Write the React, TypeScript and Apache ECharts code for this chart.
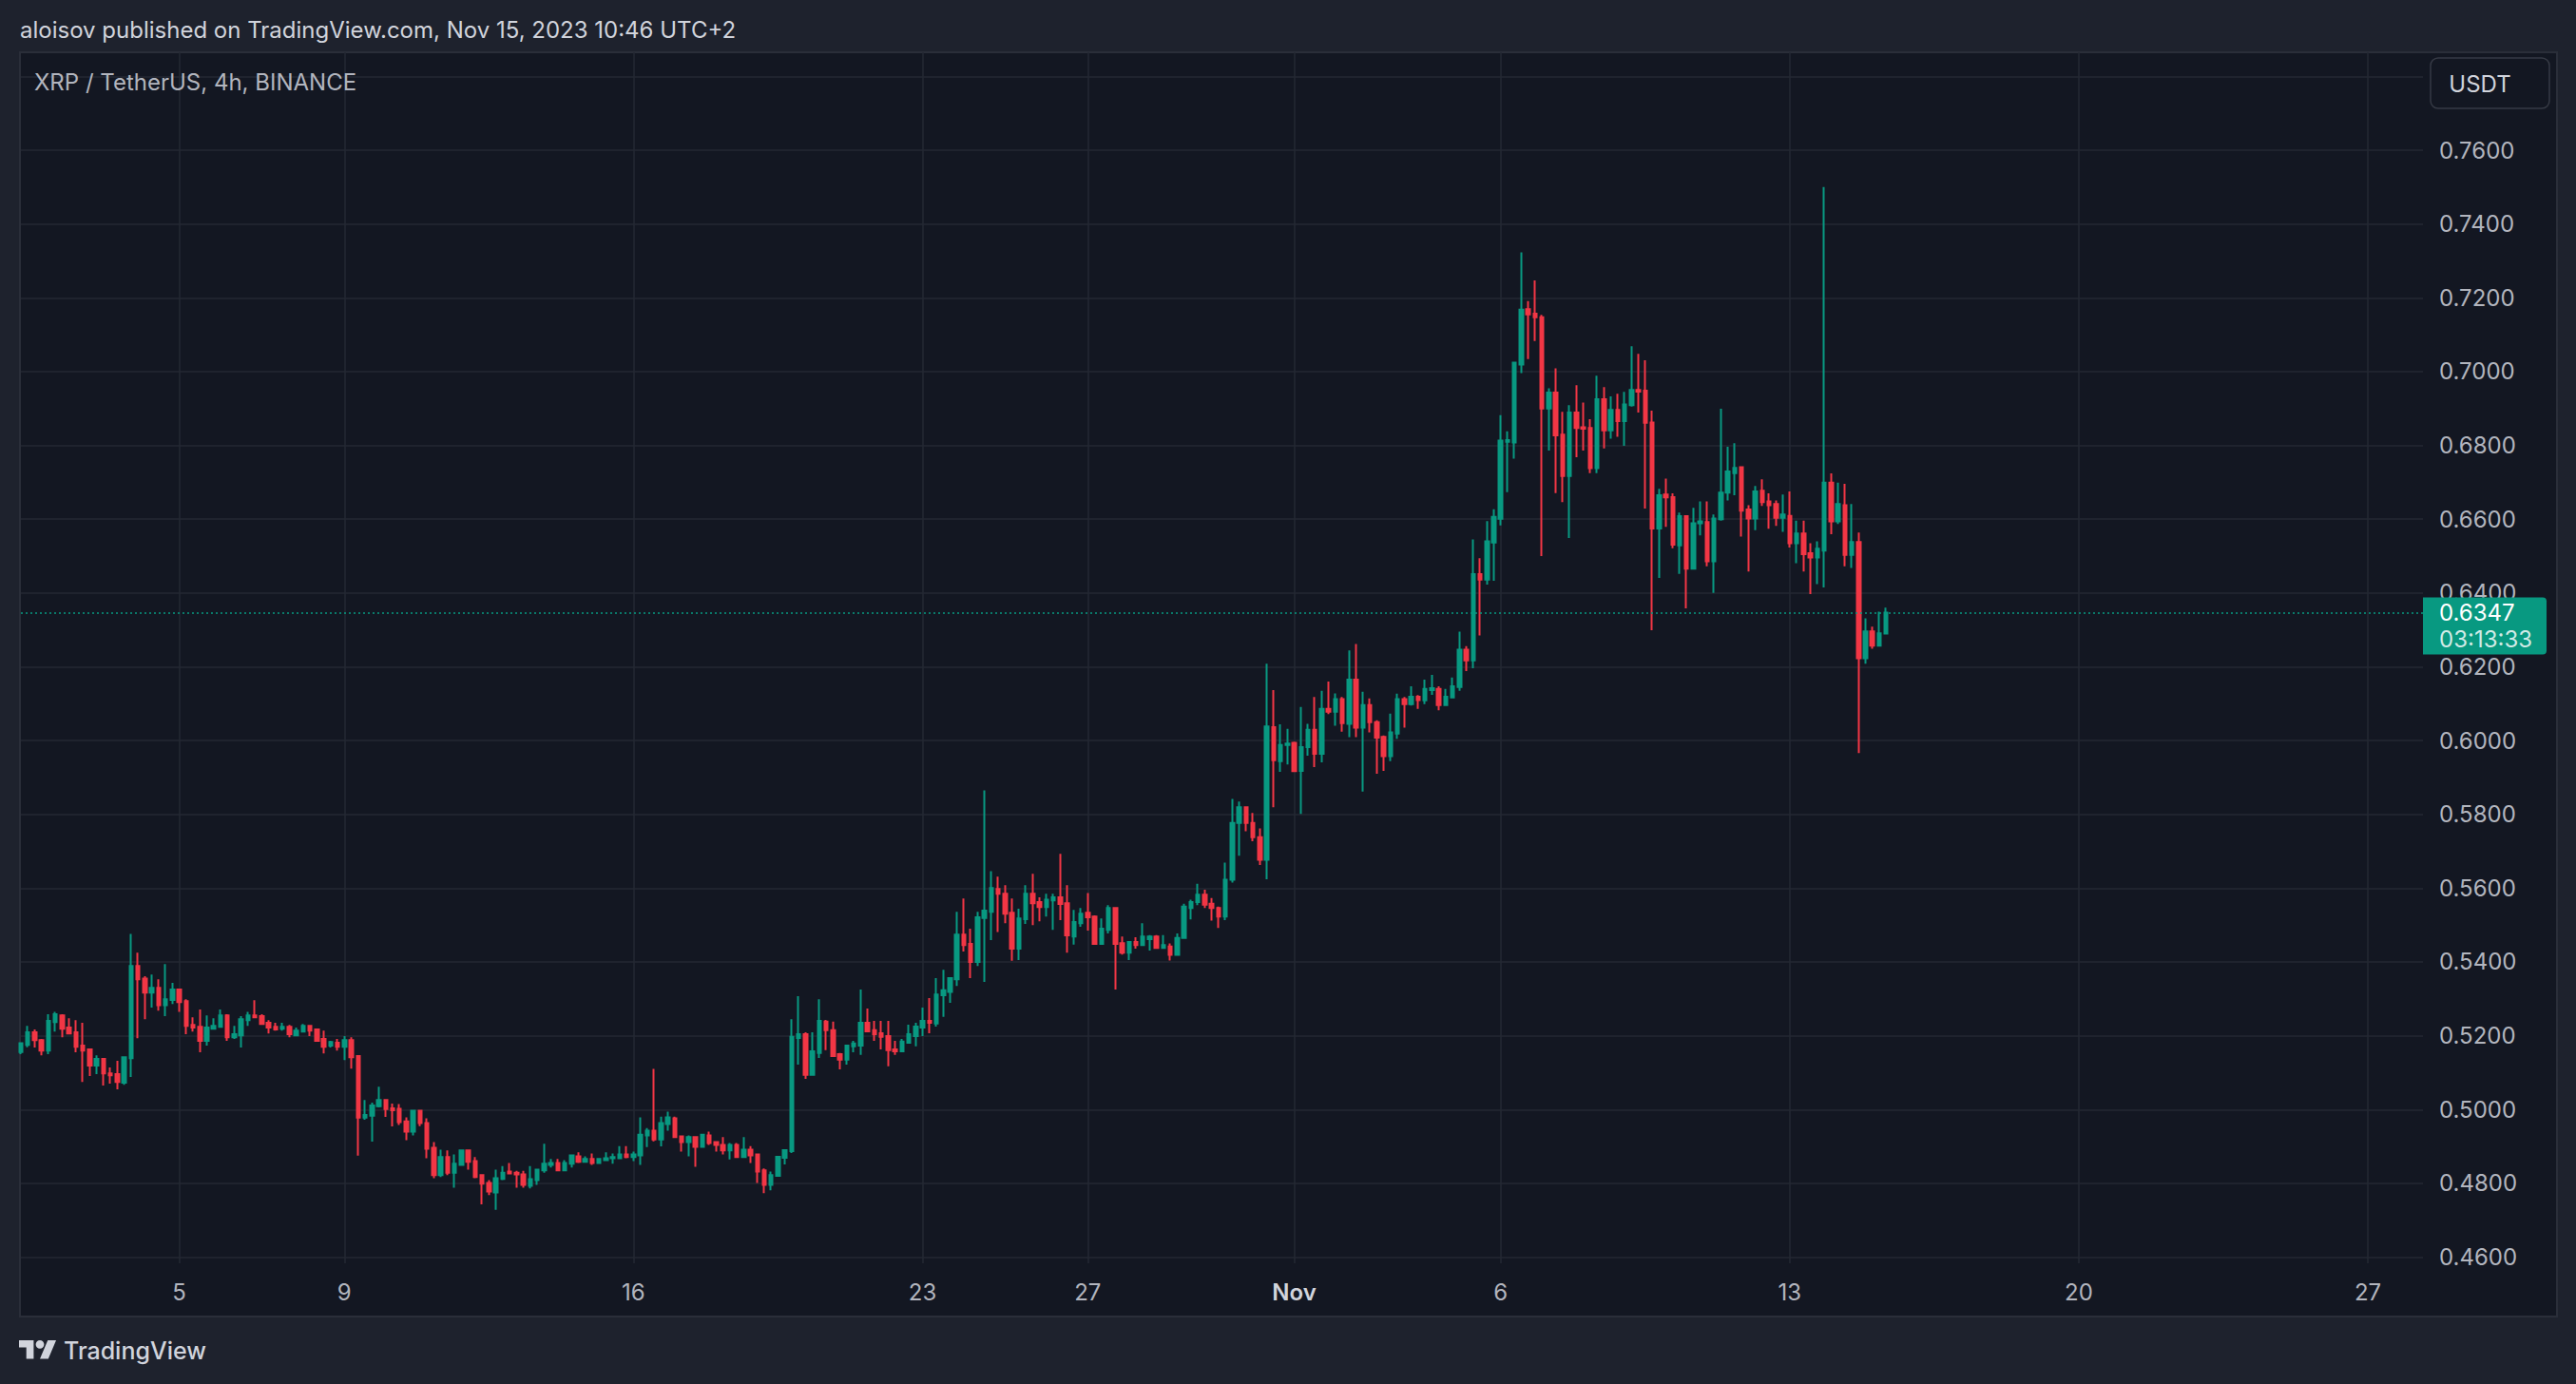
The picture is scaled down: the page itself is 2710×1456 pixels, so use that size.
import React, { useEffect, useRef } from "react";
import * as echarts from "echarts";

// ---- data: 4h candles [open, high, low, close], first slot Oct 1 06:00 (UTC+2) ----
const candlesWeek1 = [
  [0.5156,0.5182,0.5150,0.5180],[0.5175,0.5227,0.5169,0.5209],[0.5209,0.5217,0.5168,0.5188],[0.5188,0.5191,0.5147,0.5160],[0.5160,0.5258,0.5150,0.5240],[0.5237,0.5265,0.5211,0.5258],[0.5255,0.5258,0.5196,0.5219],[0.5222,0.5247,0.5206,0.5206],[0.5209,0.5242,0.5155,0.5170],[0.5173,0.5235,0.5075,0.5160],
  [0.5163,0.5165,0.5091,0.5119],[0.5119,0.5147,0.5096,0.5137],[0.5137,0.5140,0.5065,0.5098],[0.5098,0.5114,0.5070,0.5093],[0.5096,0.5132,0.5055,0.5075],[0.5073,0.5142,0.5067,0.5142],[0.5139,0.5476,0.5088,0.5389],[0.5389,0.5425,0.5193,0.5353],[0.5355,0.5361,0.5245,0.5317],[0.5317,0.5366,0.5276,0.5330],
  [0.5330,0.5353,0.5268,0.5283],[0.5283,0.5394,0.5253,0.5299],[0.5297,0.5343,0.5286,0.5325],[0.5325,0.5325,0.5265,0.5291],[0.5294,0.5299,0.5204,0.5227],[0.5229,0.5250,0.5211,0.5222],[0.5224,0.5271,0.5155,0.5186],[0.5186,0.5255,0.5173,0.5222],[0.5219,0.5247,0.5217,0.5227],[0.5224,0.5271,0.5222,0.5255],
  [0.5255,0.5258,0.5186,0.5196],[0.5196,0.5227,0.5191,0.5204],[0.5201,0.5253,0.5168,0.5245],[0.5242,0.5265,0.5227,0.5255],[0.5255,0.5296,0.5250,0.5250],[0.5253,0.5258,0.5232,0.5232],[0.5235,0.5242,0.5206,0.5222],[0.5224,0.5235,0.5214,0.5217],[0.5219,0.5235,0.5214,0.5224],[0.5224,0.5229,0.5196,0.5204],
  [0.5201,0.5222,0.5201,0.5214],[0.5211,0.5232,0.5209,0.5227],
];
const candlesWeek2 = [
  [0.5227,0.5227,0.5199,0.5214],[0.5217,0.5219,0.5186,0.5186],[0.5191,0.5214,0.5152,0.5170],[0.5173,0.5186,0.5168,0.5183],[0.5181,0.5191,0.5160,0.5170],[0.5170,0.5199,0.5134,0.5188],[0.5188,0.5196,0.5111,0.5142],[0.5145,0.5147,0.4875,0.4978],[0.4978,0.5026,0.4972,0.4985],[0.4983,0.5019,0.4913,0.5011],
  [0.5009,0.5062,0.5006,0.5026],[0.5026,0.5026,0.4980,0.5001],[0.5003,0.5016,0.4954,0.4998],[0.5002,0.5015,0.4958,0.4966],[0.4968,0.4979,0.4917,0.4940],[0.4940,0.4999,0.4930,0.4997],[0.4997,0.4999,0.4955,0.4963],[0.4963,0.4976,0.4868,0.4894],[0.4896,0.4912,0.4814,0.4822],[0.4822,0.4891,0.4817,0.4871],
  [0.4871,0.4889,0.4822,0.4829],[0.4829,0.4878,0.4788,0.4853],[0.4850,0.4891,0.4850,0.4889],[0.4889,0.4889,0.4837,0.4858],[0.4860,0.4871,0.4814,0.4817],[0.4822,0.4824,0.4743,0.4799],[0.4801,0.4809,0.4768,0.4778],[0.4775,0.4837,0.4728,0.4814],[0.4812,0.4847,0.4809,0.4829],[0.4832,0.4855,0.4824,0.4827],
  [0.4829,0.4834,0.4788,0.4824],[0.4824,0.4834,0.4788,0.4796],[0.4793,0.4847,0.4786,0.4811],[0.4809,0.4837,0.4796,0.4837],[0.4835,0.4907,0.4829,0.4853],[0.4850,0.4866,0.4843,0.4855],[0.4855,0.4866,0.4835,0.4835],[0.4835,0.4863,0.4835,0.4855],[0.4853,0.4876,0.4843,0.4876],[0.4873,0.4884,0.4855,0.4858],
  [0.4858,0.4873,0.4858,0.4866],[0.4866,0.4881,0.4850,0.4855],
];
const candlesWeek3 = [
  [0.4855,0.4866,0.4853,0.4866],[0.4863,0.4884,0.4860,0.4868],[0.4868,0.4881,0.4853,0.4871],[0.4868,0.4901,0.4868,0.4878],[0.4878,0.4901,0.4868,0.4871],[0.4871,0.4886,0.4860,0.4878],[0.4876,0.4979,0.4850,0.4932],[0.4930,0.4950,0.4898,0.4943],[0.4943,0.5110,0.4914,0.4919],[0.4919,0.4981,0.4900,0.4963],
  [0.4961,0.4994,0.4943,0.4979],[0.4976,0.4981,0.4925,0.4925],[0.4927,0.4927,0.4886,0.4912],[0.4912,0.4930,0.4873,0.4925],[0.4925,0.4925,0.4845,0.4899],[0.4899,0.4932,0.4896,0.4932],[0.4930,0.4940,0.4904,0.4909],[0.4912,0.4914,0.4886,0.4904],[0.4904,0.4925,0.4878,0.4889],[0.4889,0.4909,0.4865,0.4904],
  [0.4904,0.4909,0.4871,0.4871],[0.4871,0.4925,0.4871,0.4891],[0.4891,0.4901,0.4855,0.4876],[0.4878,0.4881,0.4801,0.4832],[0.4835,0.4840,0.4773,0.4796],[0.4796,0.4832,0.4781,0.4822],[0.4820,0.4872,0.4820,0.4872],[0.4869,0.4892,0.4851,0.4890],[0.4887,0.5245,0.4882,0.5197],[0.5194,0.5307,0.5122,0.5204],
  [0.5204,0.5209,0.5083,0.5094],[0.5094,0.5209,0.5094,0.5158],[0.5153,0.5299,0.5140,0.5240],[0.5238,0.5243,0.5161,0.5215],[0.5215,0.5238,0.5143,0.5145],[0.5150,0.5153,0.5109,0.5135],[0.5135,0.5173,0.5122,0.5173],[0.5171,0.5186,0.5155,0.5179],[0.5173,0.5325,0.5148,0.5235],[0.5235,0.5274,0.5212,0.5212],
  [0.5215,0.5240,0.5186,0.5204],[0.5207,0.5240,0.5163,0.5197],
];
const candlesWeek4 = [
  [0.5199,0.5240,0.5117,0.5161],[0.5163,0.5186,0.5148,0.5158],[0.5158,0.5191,0.5158,0.5184],[0.5181,0.5230,0.5181,0.5204],[0.5199,0.5235,0.5171,0.5225],[0.5222,0.5276,0.5199,0.5240],[0.5240,0.5302,0.5207,0.5235],[0.5233,0.5356,0.5225,0.5312],[0.5310,0.5379,0.5251,0.5323],[0.5319,0.5359,0.5289,0.5356],
  [0.5353,0.5536,0.5335,0.5474],[0.5474,0.5572,0.5428,0.5446],[0.5449,0.5490,0.5356,0.5400],[0.5400,0.5536,0.5389,0.5521],[0.5519,0.5865,0.5346,0.5539],[0.5536,0.5646,0.5459,0.5600],[0.5598,0.5631,0.5481,0.5585],[0.5585,0.5608,0.5505,0.5531],[0.5533,0.5572,0.5403,0.5436],[0.5436,0.5544,0.5405,0.5518],
  [0.5516,0.5608,0.5503,0.5585],[0.5585,0.5639,0.5500,0.5559],[0.5562,0.5575,0.5510,0.5549],[0.5549,0.5585,0.5523,0.5569],[0.5567,0.5585,0.5487,0.5575],[0.5575,0.5693,0.5513,0.5557],[0.5559,0.5608,0.5425,0.5472],[0.5469,0.5541,0.5447,0.5508],[0.5505,0.5546,0.5495,0.5531],[0.5533,0.5587,0.5485,0.5521],
  [0.5523,0.5526,0.5449,0.5449],[0.5449,0.5518,0.5449,0.5490],[0.5487,0.5554,0.5477,0.5546],[0.5546,0.5546,0.5325,0.5449],[0.5451,0.5469,0.5420,0.5425],[0.5425,0.5454,0.5405,0.5454],[0.5454,0.5467,0.5436,0.5446],[0.5446,0.5505,0.5446,0.5469],[0.5462,0.5473,0.5431,0.5469],[0.5469,0.5473,0.5438,0.5438],
  [0.5438,0.5473,0.5438,0.5446],[0.5442,0.5450,0.5404,0.5419],
];
const candlesWeek5 = [
  [0.5419,0.5477,0.5419,0.5465],[0.5465,0.5558,0.5465,0.5550],[0.5546,0.5569,0.5515,0.5562],[0.5562,0.5612,0.5554,0.5582],[0.5582,0.5596,0.5546,0.5555],[0.5558,0.5573,0.5512,0.5546],[0.5546,0.5550,0.5492,0.5523],[0.5523,0.5669,0.5513,0.5623],[0.5623,0.5842,0.5615,0.5777],[0.5777,0.5835,0.5688,0.5819],
  [0.5819,0.5819,0.5754,0.5777],[0.5777,0.5804,0.5727,0.5738],[0.5738,0.5762,0.5663,0.5677],[0.5677,0.6208,0.5624,0.6038],[0.6036,0.6137,0.5819,0.5947],[0.5944,0.6044,0.5915,0.5988],[0.5988,0.6032,0.5935,0.5992],[0.5994,0.5997,0.5915,0.5917],[0.5918,0.6091,0.5801,0.5982],[0.5982,0.6045,0.5959,0.6029],
  [0.6029,0.6118,0.5928,0.5964],[0.5964,0.6135,0.5941,0.6086],[0.6086,0.6160,0.6072,0.6078],[0.6078,0.6128,0.6040,0.6112],[0.6112,0.6118,0.6024,0.6047],[0.6045,0.6244,0.6009,0.6165],[0.6165,0.6262,0.6009,0.6035],[0.6035,0.6132,0.5862,0.6096],[0.6096,0.6114,0.6022,0.6050],[0.6050,0.6055,0.5910,0.6008],
  [0.6010,0.6014,0.5918,0.5958],[0.5958,0.6073,0.5944,0.6022],[0.6019,0.6127,0.6005,0.6112],[0.6112,0.6118,0.6035,0.6099],[0.6099,0.6147,0.6095,0.6119],[0.6119,0.6123,0.6086,0.6110],[0.6109,0.6165,0.6099,0.6140],[0.6137,0.6178,0.6124,0.6142],[0.6140,0.6147,0.6082,0.6096],[0.6096,0.6140,0.6094,0.6119],
  [0.6117,0.6171,0.6114,0.6147],[0.6145,0.6295,0.6135,0.6246],
];
const candlesWeek6 = [
  [0.6246,0.6256,0.6188,0.6217],[0.6217,0.6545,0.6196,0.6451],[0.6451,0.6494,0.6285,0.6436],[0.6436,0.6595,0.6423,0.6540],[0.6537,0.6627,0.6433,0.6606],[0.6601,0.6882,0.6583,0.6813],[0.6810,0.6838,0.6673,0.6814],[0.6808,0.7027,0.6764,0.7024],[0.7019,0.7323,0.6996,0.7168],[0.7169,0.7191,0.7034,0.7155],
  [0.7157,0.7247,0.7083,0.7147],[0.7147,0.7154,0.6500,0.6900],[0.6900,0.6955,0.6786,0.6943],[0.6943,0.7009,0.6671,0.6827],[0.6829,0.6891,0.6646,0.6717],[0.6717,0.6909,0.6549,0.6889],[0.6889,0.6963,0.6768,0.6847],[0.6849,0.6916,0.6786,0.6845],[0.6847,0.6871,0.6725,0.6738],[0.6738,0.6989,0.6725,0.6925],
  [0.6925,0.6958,0.6792,0.6841],[0.6841,0.6933,0.6818,0.6896],[0.6896,0.6940,0.6823,0.6866],[0.6866,0.6945,0.6799,0.6911],[0.6909,0.7069,0.6905,0.6950],[0.6950,0.7048,0.6889,0.6946],[0.6948,0.7031,0.6629,0.6861],[0.6862,0.6894,0.6299,0.6575],[0.6575,0.6682,0.6441,0.6665],[0.6667,0.6710,0.6579,0.6659],
  [0.6660,0.6670,0.6521,0.6531],[0.6529,0.6618,0.6452,0.6608],[0.6608,0.6608,0.6358,0.6466],[0.6466,0.6631,0.6464,0.6589],[0.6589,0.6648,0.6556,0.6594],[0.6592,0.6648,0.6472,0.6486],[0.6486,0.6613,0.6400,0.6602],[0.6600,0.6899,0.6596,0.6672],[0.6672,0.6796,0.6651,0.6729],[0.6725,0.6806,0.6665,0.6739],
  [0.6741,0.6741,0.6553,0.6623],[0.6626,0.6638,0.6458,0.6602],
];
const candlesWeek7 = [
  [0.6602,0.6690,0.6570,0.6675],[0.6677,0.6708,0.6636,0.6646],[0.6648,0.6670,0.6574,0.6638],[0.6641,0.6651,0.6582,0.6604],[0.6604,0.6667,0.6566,0.6613],[0.6609,0.6675,0.6523,0.6535],[0.6535,0.6596,0.6481,0.6561],[0.6561,0.6596,0.6458,0.6505],[0.6508,0.6535,0.6397,0.6496],[0.6496,0.6540,0.6424,0.6520],
  [0.6515,0.7500,0.6415,0.6699],[0.6699,0.6724,0.6559,0.6594],[0.6594,0.6699,0.6587,0.6641],[0.6638,0.6696,0.6472,0.6503],[0.6503,0.6641,0.6468,0.6538],[0.6538,0.6564,0.5966,0.6223],[0.6223,0.6331,0.6208,0.6296],[0.6296,0.6309,0.6249,0.6257],[0.6257,0.6349,0.6257,0.6291],[0.6290,0.6360,0.6290,0.6347],
];

const lastPrice = 0.6347;
const countdown = "03:13:33";
const tickDates = ["2023-10-05", "2023-10-09", "2023-10-16", "2023-10-23", "2023-10-27", "2023-11-01", "2023-11-06", "2023-11-13", "2023-11-20", "2023-11-27"];
const tickLabels = ["5", "9", "16", "23", "27", "Nov", "6", "13", "20", "27"];
const boldTicks = ["Nov"];
const slotCount = 350;
const firstSlotMs = Date.UTC(2023, 9, 1, 6, 0);
const yMin = 0.45833;
const yMax = 0.78654;

const headerText = "aloisov published on TradingView.com, Nov 15, 2023 10:46 UTC+2";
const symbolText = "XRP / TetherUS, 4h, BINANCE";
const currencyText = "USDT";

const FONT = "Inter, 'Noto Sans', Roboto, sans-serif";

echarts.graphic.registerShape(
  "tvLogo",
  echarts.graphic.extendPath(
    "M14 22H7V11H0V4h14v18zM28 22h-8l7.5-18h8L28 22zM16 8a4 4 0 1 0 8 0a4 4 0 1 0 -8 0z",
    {}
  )
);

const pad = (n: number) => String(n).padStart(2, "0");

export default function App() {
  const ref = useRef<HTMLDivElement>(null);
  useEffect(() => {
    document.body.style.margin = "0";
    const chart = echarts.init(ref.current!, null, { renderer: "svg" });

    const categories: string[] = [];
    for (let i = 0; i < slotCount; i++) {
      const d = new Date(firstSlotMs + i * 4 * 3600 * 1000);
      categories.push(
        `${d.getUTCFullYear()}-${pad(d.getUTCMonth() + 1)}-${pad(d.getUTCDate())} ${pad(d.getUTCHours())}:00`
      );
    }
    const labelAt = new Map<number, string>();
    tickDates.forEach((td, k) => {
      const idx = categories.findIndex((c) => c.startsWith(td));
      if (idx >= 0) labelAt.set(idx, tickLabels[k]);
    });

    const allCandles = [
      ...candlesWeek1, ...candlesWeek2, ...candlesWeek3, ...candlesWeek4,
      ...candlesWeek5, ...candlesWeek6, ...candlesWeek7,
    ];
    const seriesData = allCandles.map(([o, h, l, c]) => [o, c, l, h]);

    const gridColor = "#242833";

    chart.setOption({
      animation: false,
      backgroundColor: "#1e222d",
      textStyle: { fontFamily: FONT },
      grid: { left: 22, right: 161, top: 55, bottom: 127, containLabel: false },
      xAxis: {
        type: "category",
        data: categories,
        boundaryGap: false,
        axisLine: { show: false },
        axisTick: { show: false },
        axisLabel: {
          interval: (i: number) => labelAt.has(i),
          formatter: (_v: string, i: number) => {
            const t = labelAt.get(i) ?? "";
            return boldTicks.includes(t) ? `{b|${t}}` : t;
          },
          color: "#b2b5be",
          fontSize: 24,
          fontFamily: FONT,
          margin: 18,
          rich: { b: { fontWeight: 600, color: "#d1d4dc", fontSize: 24, fontFamily: FONT } },
        },
        splitLine: {
          show: true,
          interval: (i: number) => labelAt.has(i),
          lineStyle: { color: gridColor, width: 1.6 },
        },
      },
      yAxis: {
        type: "value",
        position: "right",
        min: yMin,
        max: yMax,
        splitNumber: 16,
        minInterval: 0.02,
        maxInterval: 0.02,
        axisLine: { show: false },
        axisTick: { show: false },
        axisLabel: {
          color: "#b2b5be",
          fontSize: 24,
          fontFamily: FONT,
          margin: 17,
          showMinLabel: false,
          showMaxLabel: false,
          formatter: (v: number) => (v > 0.77 || v < 0.459 ? "" : v.toFixed(4)),
        },
        splitLine: {
          show: true,
          showMinLine: false,
          showMaxLine: false,
          lineStyle: { color: gridColor, width: 1.6 },
        },
      },
      series: [
        {
          type: "candlestick",
          data: seriesData,
          barWidth: 4,
          itemStyle: {
            color: "#089981",
            color0: "#F23645",
            borderColor: "#089981",
            borderColor0: "#F23645",
            borderWidth: 2,
          },
          emphasis: { disabled: true },
          markLine: {
            silent: true,
            precision: 4,
            symbol: ["none", "none"],
            animation: false,
            data: [{ yAxis: lastPrice }],
            lineStyle: { color: "#089981", type: [2, 3], width: 1.6 },
            emphasis: { disabled: true },
            label: {
              show: true,
              position: "end",
              distance: 0,
              offset: [0, 14],
              formatter: `{p|${lastPrice.toFixed(4)}}\n{t|${countdown}}`,
              backgroundColor: "#089981",
              borderRadius: [0, 4, 4, 0],
              padding: [2, 15, 2, 17],
              rich: {
                p: { color: "#ffffff", fontSize: 24, lineHeight: 28, fontFamily: FONT },
                t: { color: "rgba(255,255,255,0.82)", fontSize: 24, lineHeight: 28, fontFamily: FONT },
              },
            },
          },
        },
      ],
      graphic: [
        {
          type: "rect",
          z: -10,
          silent: true,
          shape: { x: 21, y: 55, width: 2669, height: 1330 },
          style: { fill: "#131722", stroke: "#2a2e39", lineWidth: 2 },
        },
        {
          type: "text",
          x: 21,
          y: 31,
          z: 10,
          style: { text: headerText, fill: "#d1d4dc", fontSize: 24, fontFamily: FONT, verticalAlign: "middle" },
        },
        {
          type: "text",
          x: 36,
          y: 86,
          z: 10,
          style: { text: symbolText, fill: "#b2b5be", fontSize: 24, fontFamily: FONT, verticalAlign: "middle" },
        },
        {
          type: "rect",
          z: 10,
          shape: { x: 2557, y: 61, width: 125, height: 53, r: 8 },
          style: { fill: "#131722", stroke: "#363a45", lineWidth: 1.5 },
        },
        {
          type: "text",
          x: 2609,
          y: 88,
          z: 11,
          style: { text: currencyText, fill: "#d1d4dc", fontSize: 24, fontFamily: FONT, align: "center", verticalAlign: "middle" },
        },
        {
          type: "tvLogo",
          x: 20,
          y: 1405.7,
          scaleX: 1.1,
          scaleY: 1.08,
          z: 10,
          style: { fill: "#d1d4dc" },
        },
        {
          type: "text",
          x: 67,
          y: 1421,
          z: 10,
          style: { text: "TradingView", fill: "#d1d4dc", fontSize: 25, fontWeight: 500, fontFamily: FONT, verticalAlign: "middle" },
        },
      ],
    });
    return () => chart.dispose();
  }, []);
  return <div ref={ref} style={{ position: "fixed", left: 0, top: 0, width: 2710, height: 1456 }} />;
}
